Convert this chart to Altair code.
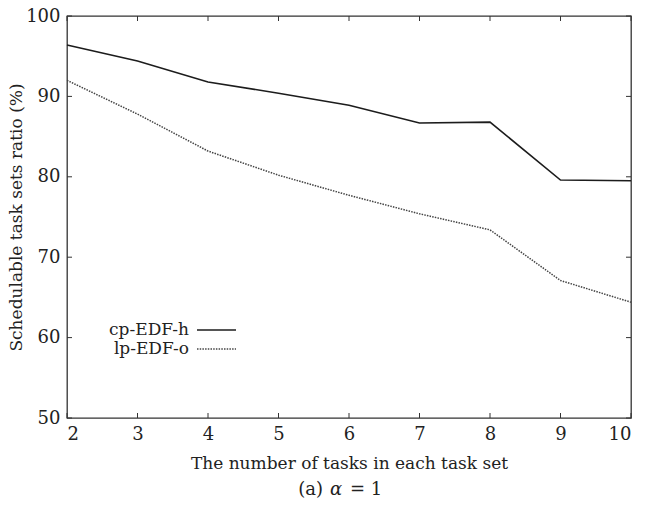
import altair as alt
import pandas as pd

# Schedulability results for alpha = 1
tasks = [2, 3, 4, 5, 6, 7, 8, 9, 10]
cp_edf_h = [96.4, 94.4, 91.8, 90.4, 88.9, 86.7, 86.8, 79.6, 79.5]
lp_edf_o = [92.0, 87.8, 83.2, 80.2, 77.7, 75.4, 73.4, 67.1, 64.4]
series_names = ["cp-EDF-h", "lp-EDF-o"]

x_ticks = [2, 3, 4, 5, 6, 7, 8, 9, 10]
y_ticks = [50, 60, 70, 80, 90, 100]

W, H = 564, 402
FONT = "DejaVu Serif"
TICK = 5

df = pd.DataFrame({
    "tasks": tasks * 2,
    "ratio": cp_edf_h + lp_edf_o,
    "series": [series_names[0]] * len(tasks) + [series_names[1]] * len(tasks),
})

x_scale = alt.Scale(domain=[2, 10], nice=False, zero=False)
y_scale = alt.Scale(domain=[50, 100], nice=False, zero=False)

x_axis = alt.Axis(values=x_ticks, format="d", title="The number of tasks in each task set",
                  tickSize=0, domain=False, grid=False, labelPadding=7,
                  labelFont=FONT, labelFontSize=18, labelColor="#222",
                  titleFont=FONT, titleFontSize=17, titleFontWeight="normal",
                  titleColor="#222", titlePadding=12)
y_axis = alt.Axis(values=y_ticks, format="d", title="Schedulable task sets ratio (%)",
                  tickSize=0, domain=False, grid=False, labelPadding=7,
                  labelFont=FONT, labelFontSize=18, labelColor="#222",
                  titleFont=FONT, titleFontSize=17, titleFontWeight="normal",
                  titleColor="#222", titlePadding=0)

base = alt.Chart(df)

cp_line = base.transform_filter(alt.datum.series == series_names[0]).mark_line(
    color="#1c1c1c", strokeWidth=1.6
).encode(
    x=alt.X("tasks:Q", scale=x_scale, axis=x_axis),
    y=alt.Y("ratio:Q", scale=y_scale, axis=y_axis),
)

lp_line = base.transform_filter(alt.datum.series == series_names[1]).mark_line(
    color="#444444", strokeWidth=1.5, strokeDash=[1.5, 1.2]
).encode(
    x=alt.X("tasks:Q", scale=x_scale),
    y=alt.Y("ratio:Q", scale=y_scale),
)

# Inward-pointing ticks on all four sides of the frame
xt = pd.DataFrame({"t": x_ticks})
yt = pd.DataFrame({"v": y_ticks})
tick_color = "#333333"
bottom_ticks = alt.Chart(xt).mark_rule(color=tick_color, strokeWidth=1).encode(
    x=alt.X("t:Q", scale=x_scale), y=alt.value(H), y2=alt.value(H - TICK))
top_ticks = alt.Chart(xt).mark_rule(color=tick_color, strokeWidth=1).encode(
    x=alt.X("t:Q", scale=x_scale), y=alt.value(0), y2=alt.value(TICK))
left_ticks = alt.Chart(yt).mark_rule(color=tick_color, strokeWidth=1).encode(
    y=alt.Y("v:Q", scale=y_scale), x=alt.value(0), x2=alt.value(TICK))
right_ticks = alt.Chart(yt).mark_rule(color=tick_color, strokeWidth=1).encode(
    y=alt.Y("v:Q", scale=y_scale), x=alt.value(W), x2=alt.value(W - TICK))

# Legend: label on the left, line sample on the right
leg_rows = [314, 333]
legend_layers = []
for name, ly in zip(series_names, leg_rows):
    legend_layers.append(
        alt.Chart(pd.DataFrame({"name": [name]})).mark_text(
            align="right", baseline="middle", font=FONT, fontSize=17, color="#222"
        ).encode(text="name:N", x=alt.value(122), y=alt.value(ly))
    )
legend_layers.append(
    alt.Chart(pd.DataFrame({"name": [series_names[0]]})).mark_rule(
        color="#1c1c1c", strokeWidth=1.6
    ).encode(x=alt.value(130), x2=alt.value(169), y=alt.value(leg_rows[0]))
)
legend_layers.append(
    alt.Chart(pd.DataFrame({"name": [series_names[1]]})).mark_rule(
        color="#444444", strokeWidth=1.5, strokeDash=[1.5, 1.2]
    ).encode(x=alt.value(130), x2=alt.value(169), y=alt.value(leg_rows[1]))
)

# Caption under the chart: (a) α = 1
cap_y = H + 72
caption = [
    alt.Chart(pd.DataFrame({"s": ["(a)"]})).mark_text(
        align="right", baseline="middle", font=FONT, fontSize=18, color="#222"
    ).encode(text="s:N", x=alt.value(256), y=alt.value(cap_y)),
    alt.Chart(pd.DataFrame({"s": ["α"]})).mark_text(
        align="center", baseline="middle", font=FONT, fontSize=18,
        fontStyle="italic", color="#222"
    ).encode(text="s:N", x=alt.value(269), y=alt.value(cap_y)),
    alt.Chart(pd.DataFrame({"s": ["= 1"]})).mark_text(
        align="left", baseline="middle", font=FONT, fontSize=18, color="#222"
    ).encode(text="s:N", x=alt.value(283), y=alt.value(cap_y)),
]

chart = alt.layer(
    cp_line, lp_line, bottom_ticks, top_ticks, left_ticks, right_ticks,
    *legend_layers, *caption
).properties(
    width=W, height=H,
    autosize=alt.AutoSizeParams(type="none"),
    padding={"left": 67, "top": 16, "right": 14, "bottom": 89},
    background="white",
).configure_view(
    stroke="#333333", strokeWidth=1.3
)

chart.save("out.html", embed_options={"renderer": "svg", "actions": False})
